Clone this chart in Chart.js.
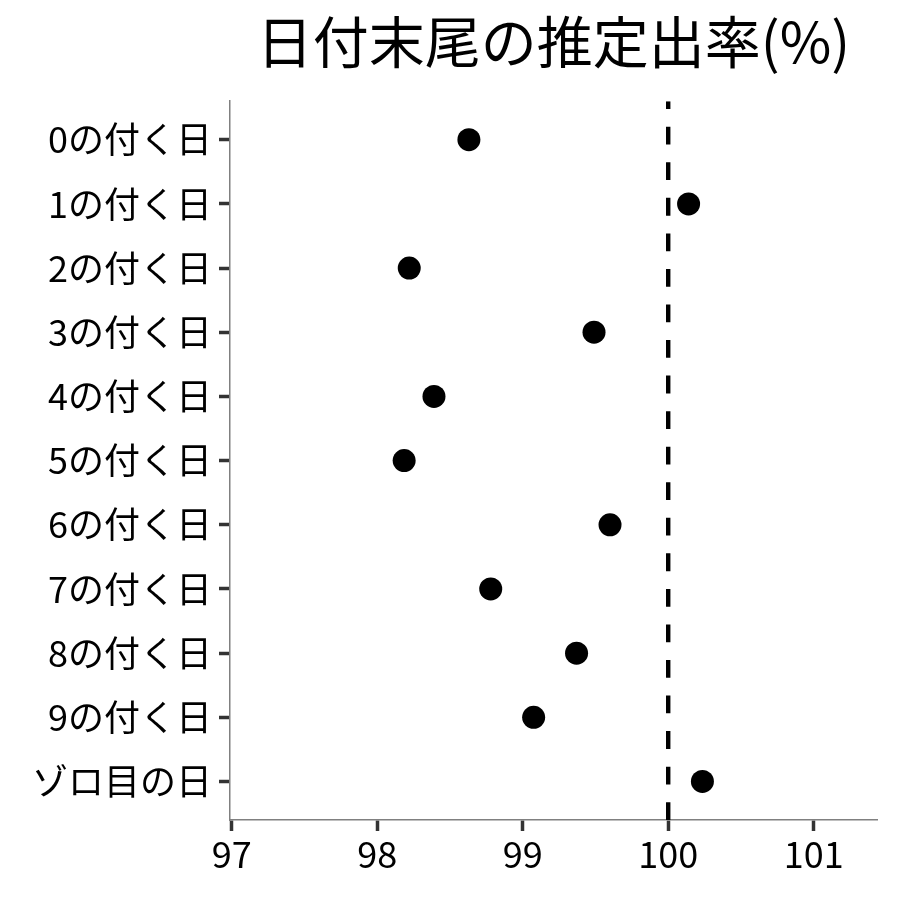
<!DOCTYPE html>
<html>
<head>
<meta charset="utf-8">
<script src="https://cdn.jsdelivr.net/npm/chart.js@4.4.1/dist/chart.umd.min.js"></script>
<style>
  html, body { margin: 0; padding: 0; background: #fff; }
  #wrap { width: 900px; height: 900px; position: relative; }
</style>
</head>
<body>
<div id="wrap"><canvas id="c" width="900" height="900"></canvas></div>
<script>
const titleText = "日付末尾の推定出率(%)";
const categories = ["0の付く日","1の付く日","2の付く日","3の付く日","4の付く日","5の付く日","6の付く日","7の付く日","8の付く日","9の付く日","ゾロ目の日"];
const rates = [98.63, 100.14, 98.22, 99.49, 98.39, 98.185, 99.60, 98.78, 99.37, 99.075, 100.235];
const xTicks = [97, 98, 99, 100, 101];
const referenceValue = 100;
const xRange = [96.988, 101.435];

const FONT = "'Noto Sans CJK JP', 'Noto Sans', sans-serif";

const points = categories.map((c, i) => ({ x: rates[i], y: i }));
const refLine = [
  { x: referenceValue, y: categories.length - 0.4 },
  { x: referenceValue, y: -0.6 }
];

new Chart(document.getElementById('c'), {
  type: 'scatter',
  data: {
    datasets: [
      {
        label: 'ref',
        data: refLine,
        showLine: true,
        borderColor: '#000',
        borderWidth: 4.4,
        borderDash: [17.8, 17.75],
        borderCapStyle: 'butt',
        pointRadius: 0,
        pointHoverRadius: 0,
        fill: false
      },
      {
        label: 'rate',
        data: points,
        backgroundColor: '#000',
        borderColor: '#000',
        borderWidth: 0,
        pointRadius: 11.5,
        pointHoverRadius: 11.5
      }
    ]
  },
  options: {
    responsive: false,
    animation: false,
    events: [],
    layout: { padding: { left: 0, right: 23, top: 0, bottom: 0 } },
    plugins: {
      legend: { display: false },
      tooltip: { enabled: false },
      title: {
        display: true,
        text: titleText,
        fullSize: false,
        color: '#000',
        font: { family: FONT, size: 56, weight: 'normal', lineHeight: 1.2 },
        padding: { top: 8, bottom: 26 }
      }
    },
    scales: {
      x: {
        type: 'linear',
        min: xRange[0],
        max: xRange[1],
        afterBuildTicks: (s) => { s.ticks = xTicks.map(v => ({ value: v })); },
        afterFit: (s) => { s.height = 80; },
        ticks: {
          color: '#000',
          font: { family: FONT, size: 36 },
          padding: 2,
          callback: (v) => String(v)
        },
        grid: {
          display: true,
          drawOnChartArea: false,
          drawTicks: true,
          tickLength: 11,
          tickColor: '#333',
          tickWidth: 3.5
        },
        border: { display: true, color: '#808080', width: 1.5 }
      },
      y: {
        type: 'linear',
        reverse: true,
        min: -0.6,
        max: categories.length - 0.4,
        afterBuildTicks: (s) => { s.ticks = categories.map((c, i) => ({ value: i })); },
        afterFit: (s) => { s.width = 230; },
        ticks: {
          color: '#000',
          font: { family: FONT, size: 36 },
          padding: 7,
          callback: (v) => categories[v] !== undefined ? categories[v] : ''
        },
        grid: {
          display: true,
          drawOnChartArea: false,
          drawTicks: true,
          tickLength: 11,
          tickColor: '#333',
          tickWidth: 3.5
        },
        border: { display: true, color: '#808080', width: 1.5 }
      }
    }
  }
});
</script>
</body>
</html>
